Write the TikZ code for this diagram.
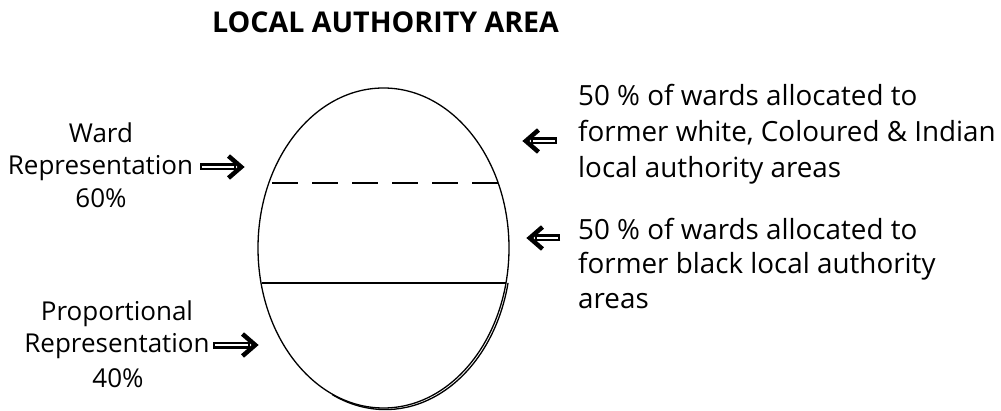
\documentclass[tikz,border=0pt]{standalone}
\usepackage{fontspec}
\setmainfont{Open Sans}
\newcommand\hollowarrow[4]{% x, y, length, direction
  \begin{scope}[shift={(#1,#2)}, xscale=#4]
    \draw[line width=7] (0,0) -- (#3-8,0);
    \draw[white, line width=2] (1.8,0) -- (#3-10,0);
    \draw[line width=4.5, miter limit=10] (#3-15.5,11) -- (#3-2.8,0) -- (#3-15.5,-11);
  \end{scope}}
\begin{document}
\begin{tikzpicture}[x=1pt,y=1pt,
  txt/.style={inner sep=0pt, font=\fontsize{26}{30}\selectfont},
  rtxt/.style={inner sep=0pt, font=\fontsize{27.8}{32}\selectfont},
  ttl/.style={inner sep=0pt, font=\bfseries\fontsize{28.6}{32}\selectfont},
  outline/.style={line width=1.3},
  dashedrule/.style={line width=2.8, dash pattern=on 26 off 14},
  solidrule/.style={line width=1.8}]
\useasboundingbox (0,0) rectangle (1001,410);
% title
\node[ttl, anchor=base] (title) at (385.5,377) {LOCAL AUTHORITY AREA};
% ellipse
\coordinate (c) at (383.5,162);
\draw[outline] (c) ellipse [x radius=125.5, y radius=160];
\draw[outline] ([shift={(1.8,-1.6)}]c) ++(-12:125.5 and 160) arc [start angle=-12, end angle=-115, x radius=125.5, y radius=160];
\coordinate (dl) at (272,227);
\coordinate (dr) at (498,227);
\draw[dashedrule] (dl) -- (dr);
\coordinate (sl) at (262,127);
\coordinate (sr) at (506,127);
\draw[solidrule] (sl) -- (sr);
% left labels
\node[txt, anchor=base] (w1) at (101,267) {Ward};
\node[txt, anchor=base] (w2) at (100.5,235) {Representation};
\node[txt, anchor=base] (w3) at (101,202) {60\%};
\node[txt, anchor=base] (p1) at (117,90) {Proportional};
\node[txt, anchor=base] (p2) at (117,58) {Representation};
\node[txt, anchor=base] (p3) at (118,23) {40\%};
% right labels
\node[rtxt, anchor=base west] (a1) at (578,304) {50 \% of wards allocated to};
\node[rtxt, anchor=base west] (a2) at (578,268) {former white, Coloured \& Indian};
\node[rtxt, anchor=base west] (a3) at (578,232) {local authority areas};
\node[rtxt, anchor=base west] (b1) at (578,170) {50 \% of wards allocated to};
\node[rtxt, anchor=base west] (b2) at (578,136) {former black local authority};
\node[rtxt, anchor=base west] (b3) at (578,102) {areas};
% arrows
\hollowarrow{200}{243}{44}{1}
\hollowarrow{213}{65}{45}{1}
\hollowarrow{557}{269}{34}{-1}
\hollowarrow{560}{172}{33}{-1}
\end{tikzpicture}
\end{document}
